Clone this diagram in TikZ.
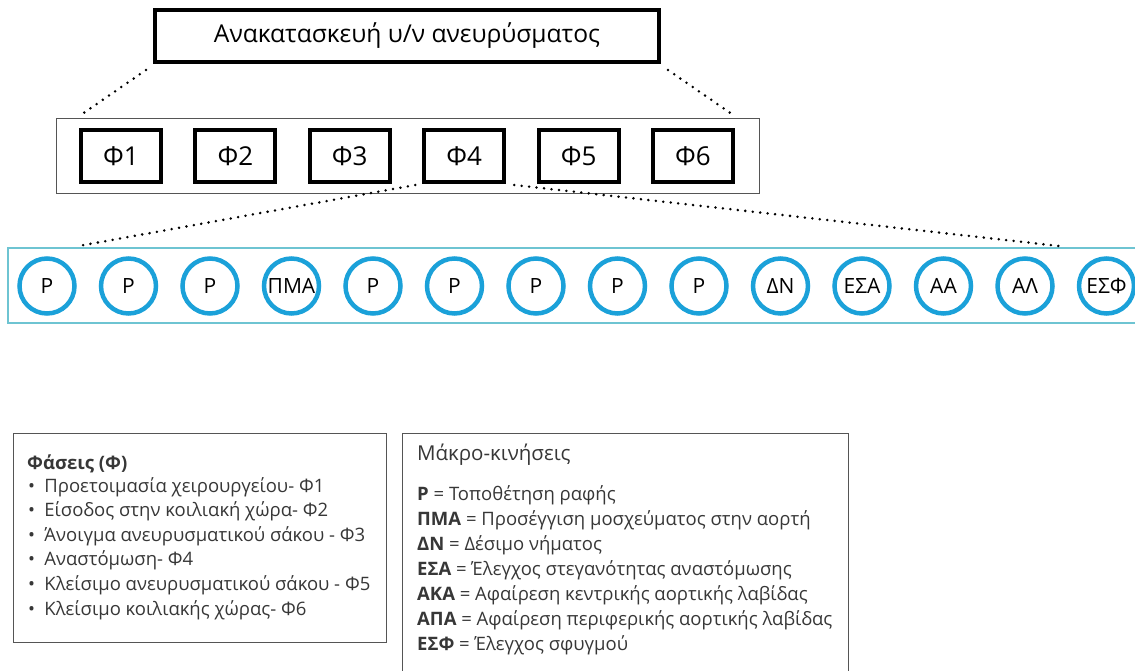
\documentclass[tikz,border=0pt]{standalone}
\usepackage{fontspec}
\setmainfont{Open Sans}
\usetikzlibrary{positioning}
\definecolor{ringblue}{RGB}{27,161,217}
\definecolor{rowteal}{RGB}{110,196,210}
\definecolor{framegray}{RGB}{85,85,85}
\definecolor{textgray}{RGB}{55,55,55}
\tikzset{
  titlebox/.style={draw, line width=4pt, minimum width=504pt, minimum height=52pt, font=\fontsize{24.6}{28}\selectfont},
  phasebox/.style={draw, line width=4pt, minimum width=80pt, minimum height=52pt, font=\fontsize{26}{30}\selectfont},
  ring/.style={circle, draw=ringblue, line width=4.5pt, minimum size=55pt, inner sep=0pt, font=\fontsize{21}{24}\selectfont},
  dots/.style={line width=2.8pt, line cap=round, dash pattern=on 0pt off 7.5pt},
  legendbox/.style={draw=framegray, line width=1.3pt, anchor=north west, inner sep=0pt},
  legendline/.style={anchor=base west, inner sep=0pt, text=textgray, font=\fontsize{18.5}{22}\selectfont},
}
\begin{document}
\begin{tikzpicture}[x=1pt,y=-1pt]
\useasboundingbox (0,0) rectangle (1135,670);
\clip (0,0) rectangle (1135,670);
% phases
\node[titlebox] (title) at (407,36) {Ανακατασκευή υ/ν ανευρύσματος};
\node[draw=framegray, line width=1pt, minimum width=703pt, minimum height=75pt] (phases) at (407.5,155.5) {};
\foreach \i in {1,...,6}
  \node[phasebox] (f\i) at (121+114.4*\i-114.4,156) {Φ\i};
\draw[dots] ([xshift=-7pt,yshift=-6pt]title.south west) -- ([xshift=26pt,yshift=3pt]phases.north west);
\draw[dots] ([xshift=7pt,yshift=-6pt]title.south east) -- ([xshift=-27pt,yshift=3pt]phases.north east);
% macro moves of phase 4
\node[draw=rowteal, line width=1.5pt, minimum width=1140pt, minimum height=75pt] (moves) at (578,285.5) {};
\foreach \lbl [count=\i] in {Ρ,Ρ,Ρ,ΠΜΑ,Ρ,Ρ,Ρ,Ρ,Ρ,ΔΝ,ΕΣΑ,ΑΑ,ΑΛ,ΕΣΦ}
  \node[ring] (m\i) at (47+81.5*\i-81.5,286) {\lbl};
\draw[dots] ([xshift=-7pt,yshift=-1pt]f4.south west) -- ([xshift=70pt,yshift=1pt]moves.north west);
\draw[dots] ([xshift=8pt,yshift=-1pt]f4.south east) -- ([xshift=1054pt,yshift=1pt]moves.north west);
% legends
\node[legendbox, minimum width=373pt, minimum height=209pt] (phaselegend) at (13,433) {};
\node[legendline, font=\fontsize{18.5}{22}\selectfont\bfseries] (ptitle) at (27,469) {Φάσεις (Φ)};
\foreach \txt [count=\i] in {Προετοιμασία χειρουργείου- Φ1, Είσοδος στην κοιλιακή χώρα- Φ2,
  Άνοιγμα ανευρυσματικού σάκου - Φ3, Αναστόμωση- Φ4,
  Κλείσιμο ανευρυσματικού σάκου - Φ5, Κλείσιμο κοιλιακής χώρας- Φ6}
  \node[legendline] (p\i) at (28,467.4+24.6*\i) {•\hspace{0.5em}\txt};
\node[legendbox, minimum width=446pt, minimum height=250pt] (movelegend) at (402,433) {};
\node[legendline, font=\fontsize{20.5}{24}\selectfont] (mtitle) at (417,460) {Μάκρο-κινήσεις};
\foreach \abbr/\txt [count=\i] in {Ρ/Τοποθέτηση ραφής, ΠΜΑ/Προσέγγιση μοσχεύματος στην αορτή,
  ΔΝ/Δέσιμο νήματος, ΕΣΑ/Έλεγχος στεγανότητας αναστόμωσης,
  ΑΚΑ/Αφαίρεση κεντρικής αορτικής λαβίδας, ΑΠΑ/Αφαίρεση περιφερικής αορτικής λαβίδας,
  ΕΣΦ/Έλεγχος σφυγμού}
  \node[legendline] (d\i) at (417,475.5+25*\i) {\textbf{\abbr} = \txt};
\end{tikzpicture}
\end{document}
